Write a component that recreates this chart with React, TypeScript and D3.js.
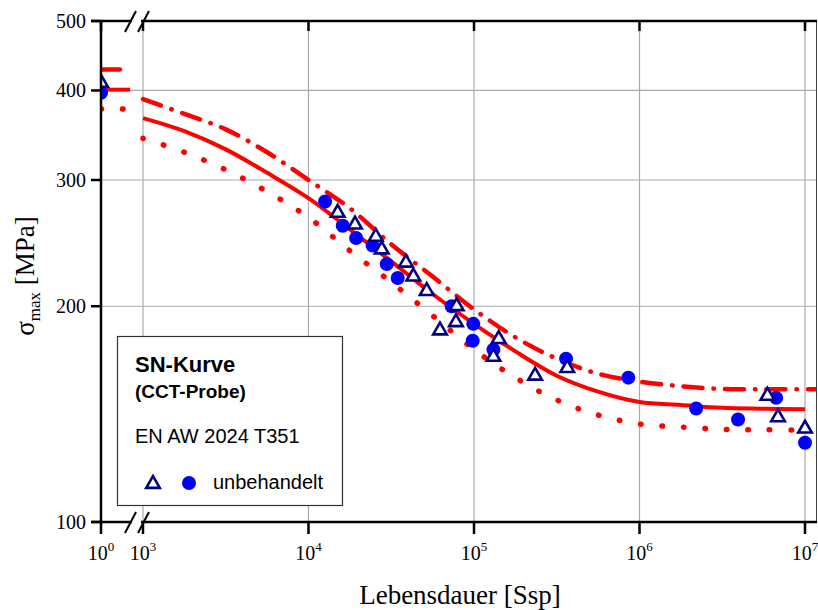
import * as d3 from "d3";
import { useEffect, useRef } from "react";

// Lebensdauer-Stützstellen der Kurven (log-Raster 10^3 ... 10^7)
const curveN = [1000, 1778, 3162, 5623, 10000, 17783, 31623, 56234, 100000, 177828, 316228, 562341, 1000000, 1778279, 3162278, 5623413, 10000000];
const solidSigma = [366, 351, 331, 307, 283, 256, 231, 208, 189, 173, 160, 152, 147, 145.6, 144.3, 143.9, 143.6];
const upperN = [...curveN, 11500000];
const upperSigma = [389, 371, 353, 328, 300, 274, 244, 220, 198, 181, 169, 161, 157, 154.7, 153.3, 153.2, 153.2, 153.2];
const lowerN = [...curveN, 11000000];
const lowerSigma = [343, 328, 310, 289, 266, 239, 216, 194, 174, 159, 148, 141, 137, 135.7, 134.7, 134.5, 134.4, 134.4];

// kurze Stücke bei 10^0 (statische Festigkeit)
const startN = [1, 1.5];
const startSolid = 401;
const startUpper = 428;
const startLower = 377;

// Versuchspunkte
const triN = [1, 15000, 19100, 25500, 27700, 38800, 43000, 51800, 62300, 77800, 78600, 131000, 141000, 234000, 366000, 5930000, 6870000, 10000000];
const triSigma = [410, 270, 260, 250, 240, 230, 220, 210, 185, 190, 200, 170, 180, 160, 164, 150, 140, 135];
const circN = [1, 12600, 16100, 19400, 24400, 29700, 34600, 73300, 98200, 99000, 131000, 360000, 856000, 2200000, 3940000, 6700000, 10000000];
const circSigma = [397, 280, 259, 249, 243, 229, 219, 200, 179, 189, 174, 169, 159, 144, 139, 149, 129];

// Achsen
const xDecades = [3, 4, 5, 6, 7];
const yTicks = [100, 200, 300, 400, 500];
const yGrid = [200, 300, 400];

const serif = "'Liberation Serif', 'Times New Roman', serif";
const sans = "'Liberation Sans', Arial, sans-serif";

const App = () => {
  const svgRef = useRef<SVGSVGElement>(null);

  useEffect(() => {
    const svg = d3.select(svgRef.current);
    svg.selectAll("*").remove();

    const left = 101, right = 817, top = 21, bottom = 522;

    const x = d3.scaleLog().domain([1e3, 1e7]).range([143, 805]);
    const xLeft = d3.scaleLog().domain([1, 10]).range([101, 266.5]);
    const xPos = (n: number) => (n < 100 ? xLeft(n) : x(n));
    const y = d3.scaleLog().domain([100, 500]).range([bottom, top]);

    svg.append("rect").attr("width", 818).attr("height", 610).attr("fill", "#fff");

    svg
      .append("defs")
      .append("clipPath")
      .attr("id", "plotClip")
      .append("rect")
      .attr("x", left)
      .attr("y", top)
      .attr("width", right - left)
      .attr("height", bottom - top);

    // gitter
    const grid = svg.append("g").attr("stroke", "#aaaaaa").attr("stroke-width", 1.2);
    xDecades.forEach((d) => {
      grid.append("line").attr("x1", x(10 ** d)).attr("x2", x(10 ** d)).attr("y1", top).attr("y2", bottom);
    });
    yGrid.forEach((v) => {
      grid.append("line").attr("x1", left).attr("x2", right).attr("y1", y(v)).attr("y2", y(v));
    });

    // legende
    const lg = svg.append("g");
    lg.append("rect")
      .attr("x", 117.5)
      .attr("y", 336.5)
      .attr("width", 225)
      .attr("height", 169)
      .attr("fill", "#fff")
      .attr("stroke", "#333")
      .attr("stroke-width", 1.2);
    lg.append("text").attr("x", 135).attr("y", 372).attr("font-family", sans).attr("font-weight", "bold").attr("font-size", 22).text("SN-Kurve");
    lg.append("text").attr("x", 135).attr("y", 398).attr("font-family", sans).attr("font-weight", "bold").attr("font-size", 19).text("(CCT-Probe)");
    lg.append("text").attr("x", 135).attr("y", 443).attr("font-family", sans).attr("font-size", 20).text("EN AW 2024 T351");
    lg.append("path")
      .attr("d", d3.symbol(d3.symbolTriangle, 80)())
      .attr("transform", "translate(153,484)")
      .attr("fill", "#fff")
      .attr("stroke", "#000080")
      .attr("stroke-width", 2.6);
    lg.append("circle").attr("cx", 189).attr("cy", 483).attr("r", 7).attr("fill", "#0000ff");
    lg.append("text").attr("x", 213).attr("y", 489).attr("font-family", sans).attr("font-size", 20).text("unbehandelt");

    // kurven
    const plot = svg.append("g").attr("clip-path", "url(#plotClip)");
    const line = d3
      .line<[number, number]>()
      .x((d) => xPos(d[0]))
      .y((d) => y(d[1]))
      .curve(d3.curveCatmullRom);

    const curves = [
      { n: curveN, s: solidSigma, start: startSolid, dash: null, w: 4 },
      { n: upperN, s: upperSigma, start: startUpper, dash: "19 11 0.5 11", w: 4.5 },
      { n: lowerN, s: lowerSigma, start: startLower, dash: "0.5 21", w: 5.5 },
    ];
    curves.forEach((c) => {
      const pts = c.n.map((n, i) => [n, c.s[i]] as [number, number]);
      [pts, startN.map((n) => [n, c.start] as [number, number])].forEach((p) => {
        plot
          .append("path")
          .attr("d", line(p))
          .attr("fill", "none")
          .attr("stroke", "#ff0000")
          .attr("stroke-width", c.w)
          .attr("stroke-linecap", c.dash ? "round" : "butt")
          .attr("stroke-dasharray", c.dash);
      });
    });

    // punkte
    plot
      .selectAll("circle.pt")
      .data(circN.map((n, i) => [n, circSigma[i]]))
      .enter()
      .append("circle")
      .attr("class", "pt")
      .attr("cx", (d) => xPos(d[0]))
      .attr("cy", (d) => y(d[1]))
      .attr("r", 7)
      .attr("fill", "#0000ff");

    plot
      .selectAll("path.tri")
      .data(triN.map((n, i) => [n, triSigma[i]]))
      .enter()
      .append("path")
      .attr("class", "tri")
      .attr("d", d3.symbol(d3.symbolTriangle, 80)())
      .attr("transform", (d) => "translate(" + xPos(d[0]) + "," + y(d[1]) + ")")
      .attr("fill", "#fff")
      .attr("stroke", "#000080")
      .attr("stroke-width", 2.6);

    // achsen
    const ax = svg.append("g").attr("stroke", "#000").attr("fill", "none");
    ax.append("line").attr("x1", left).attr("x2", left).attr("y1", top).attr("y2", bottom).attr("stroke-width", 2.5);
    ax.append("line").attr("x1", right - 0.5).attr("x2", right - 0.5).attr("y1", top).attr("y2", bottom).attr("stroke", "#444").attr("stroke-width", 1);
    [top, bottom].forEach((yy) => {
      ax.append("line").attr("x1", 91).attr("x2", 132).attr("y1", yy).attr("y2", yy).attr("stroke-width", 2.5);
      ax.append("line").attr("x1", 141).attr("x2", right).attr("y1", yy).attr("y2", yy).attr("stroke-width", 2.5);
      // bruchstriche
      [130.5, 143.5].forEach((cx) => {
        ax.append("line")
          .attr("x1", cx - 5.5)
          .attr("x2", cx + 5.5)
          .attr("y1", yy + 11)
          .attr("y2", yy - 10)
          .attr("stroke-width", 2);
      });
    });

    const xTickPos = [xLeft(1), ...xDecades.map((d) => x(10 ** d))];
    xTickPos.forEach((px) => {
      ax.append("line").attr("x1", px).attr("x2", px).attr("y1", bottom).attr("y2", bottom + 12).attr("stroke-width", 2.5);
      ax.append("line").attr("x1", px).attr("x2", px).attr("y1", top).attr("y2", top + 10).attr("stroke-width", 2.5);
    });
    yTicks.forEach((v) => {
      ax.append("line").attr("x1", left - 10).attr("x2", left).attr("y1", y(v)).attr("y2", y(v)).attr("stroke-width", 2.5);
    });

    // beschriftung
    svg
      .selectAll("text.ytick")
      .data(yTicks)
      .enter()
      .append("text")
      .attr("class", "ytick")
      .attr("x", 86)
      .attr("y", (d) => y(d) + 7)
      .attr("text-anchor", "end")
      .attr("font-family", serif)
      .attr("font-size", 20)
      .text((d) => d);

    const xLabels = [0, ...xDecades];
    xLabels.forEach((e, i) => {
      const t = svg
        .append("text")
        .attr("x", xTickPos[i])
        .attr("y", 560)
        .attr("text-anchor", "middle")
        .attr("font-family", serif)
        .attr("font-size", 20);
      t.append("tspan").text("10");
      t.append("tspan").attr("font-size", 13).attr("dy", -9).text(e);
    });

    svg
      .append("text")
      .attr("x", 460)
      .attr("y", 604)
      .attr("text-anchor", "middle")
      .attr("font-family", serif)
      .attr("font-size", 27)
      .text("Lebensdauer [Ssp]");

    const yl = svg
      .append("text")
      .attr("transform", "translate(34,276) rotate(-90)")
      .attr("text-anchor", "middle")
      .attr("font-family", serif)
      .attr("font-size", 27);
    yl.append("tspan").text("σ");
    yl.append("tspan").attr("font-size", 17).attr("dy", 6).text("max");
    yl.append("tspan").attr("dy", -6).text(" [MPa]");
  }, []);

  return (
    <svg
      ref={svgRef}
      width={818}
      height={610}
      style={{ position: "absolute", left: 0, top: 0 }}
    ></svg>
  );
};

export default App;
